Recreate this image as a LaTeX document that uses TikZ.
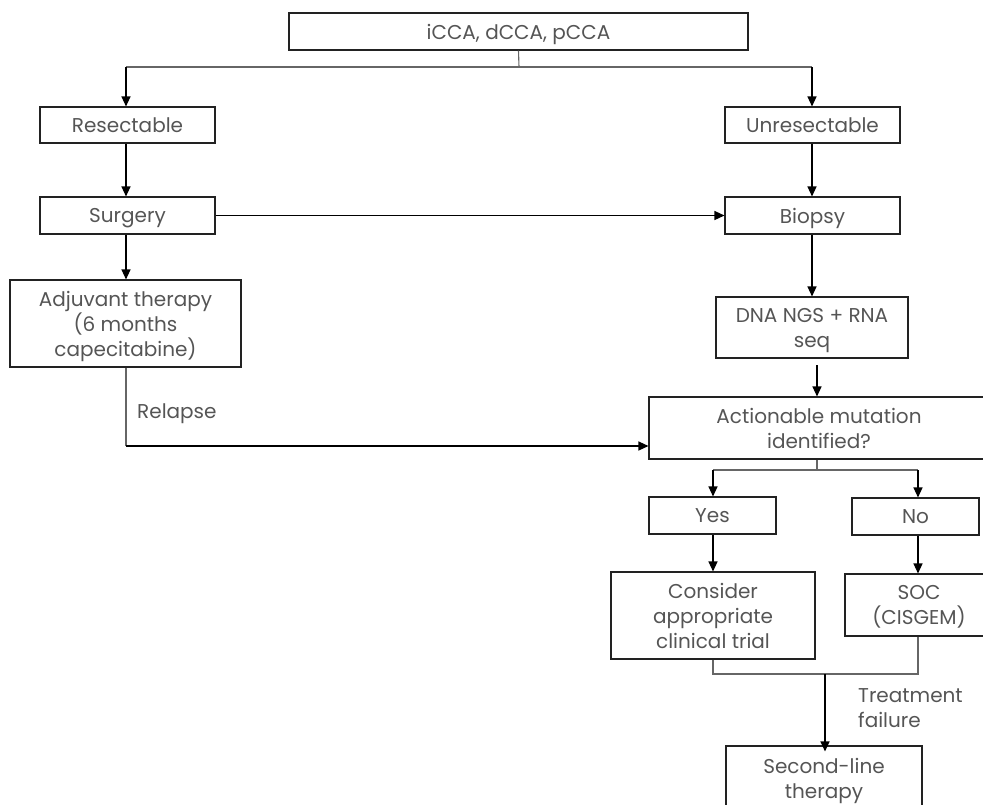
\documentclass[tikz,border=0pt]{standalone}
\usepackage{fontspec}
\setmainfont{Poppins}
\usetikzlibrary{arrows.meta}
\definecolor{txt}{HTML}{555555}
\definecolor{bord}{HTML}{222222}
\definecolor{lgray}{HTML}{666666}
\begin{document}
\begin{tikzpicture}[x=1pt,y=-1pt,
  box/.style={draw=bord,line width=1.1pt,text=txt,align=center,inner sep=0pt,
     text depth=0pt,font=\fontsize{20}{25}\selectfont},
  arr/.style={draw=black,line width=1.3pt,-{Triangle[length=10pt,width=9pt]}},
  gline/.style={draw=lgray,line width=1.1pt},
  lbl/.style={text=txt,font=\fontsize{20}{25}\selectfont,anchor=west,inner sep=0pt,align=left}]
\useasboundingbox (0,0) rectangle (983,804);
\clip (0,0) rectangle (983,804);
\node[box,minimum width=459pt,minimum height=37pt] (top) at (518.5,31.5) {iCCA, dCCA, pCCA};
\node[box,minimum width=175pt,minimum height=36pt] (res) at (127.5,125) {Resectable};
\node[box,minimum width=175pt,minimum height=36pt] (unres) at (812.5,125) {Unresectable};
\node[box,minimum width=175pt,minimum height=37pt] (surg) at (127.5,215.5) {Surgery};
\node[box,minimum width=175pt,minimum height=37pt] (biop) at (812.5,215.5) {Biopsy};
\node[box,minimum width=231pt,minimum height=87pt] (adj) at (125.5,323.5) {Adjuvant therapy\\(6 months\\capecitabine)};
\node[box,minimum width=192pt,minimum height=61pt] (dna) at (812,327.5) {DNA NGS + RNA\\seq};
\node[box,minimum width=340pt,minimum height=62pt] (act) at (819,428) {Actionable mutation\\identified?};
\node[box,minimum width=127pt,minimum height=37pt] (yes) at (712.5,515.5) {Yes};
\node[box,minimum width=127pt,minimum height=37pt] (no) at (915.5,516.5) {No};
\node[box,minimum width=204pt,minimum height=87pt] (cons) at (713,615.5) {Consider\\appropriate\\clinical trial};
\node[box,minimum width=148pt,minimum height=62pt] (soc) at (919,605) {SOC\\(CISGEM)};
\node[box,minimum width=196pt,minimum height=64pt] (sec) at (824,778) {Second-line\\therapy};
% top split
\coordinate (s1) at (519,67);
\draw[gline] (top.south) -- (s1);
\draw[gline] (126,67) coordinate (s1l) -- (812,67) coordinate (s1r);
\draw[arr] (s1l) -- (res.north -| s1l);
\draw[arr] (s1r) -- (unres.north -| s1r);
\draw[arr] (res.south -| s1l) -- (surg.north -| s1l);
\draw[arr] (unres.south -| s1r) -- (biop.north -| s1r);
\draw[arr] (surg.east) -- (biop.west);
\draw[arr] (surg.south -| s1l) -- (adj.north -| s1l);
\draw[arr] (biop.south -| s1r) -- (dna.north -| s1r);
\coordinate (d1) at (817,365);
\draw[arr] (d1) -- (act.north -| d1);
% relapse
\coordinate (r1) at (126,446);
\draw[gline] (adj.south -| r1) -- (r1);
\draw[arr] (r1) -- (act.west |- r1);
\node[lbl] (relapse) at (137,414) {Relapse};
% yes/no split
\coordinate (a1) at (817,470);
\draw[gline] (act.south -| a1) -- (a1);
\coordinate (al) at (713,470);
\coordinate (ar) at (918,470);
\draw[gline] (al) -- (ar);
\draw[arr] (al) -- (yes.north -| al);
\draw[arr] (ar) -- (no.north -| ar);
\draw[arr] (yes.south -| al) -- (cons.north -| al);
\draw[arr] (no.south -| ar) -- (soc.north -| ar);
% merge
\coordinate (ml) at (713,674);
\coordinate (mr) at (918,674);
\draw[gline] (cons.south -| ml) -- (ml) -- (mr) -- (soc.south -| mr);
\coordinate (m1) at (825,674);
\draw[arr] (m1) -- ([yshift=-6pt]sec.north -| m1);
\node[lbl] (tf) at (858,708.5) {Treatment\\failure};
\end{tikzpicture}
\end{document}
